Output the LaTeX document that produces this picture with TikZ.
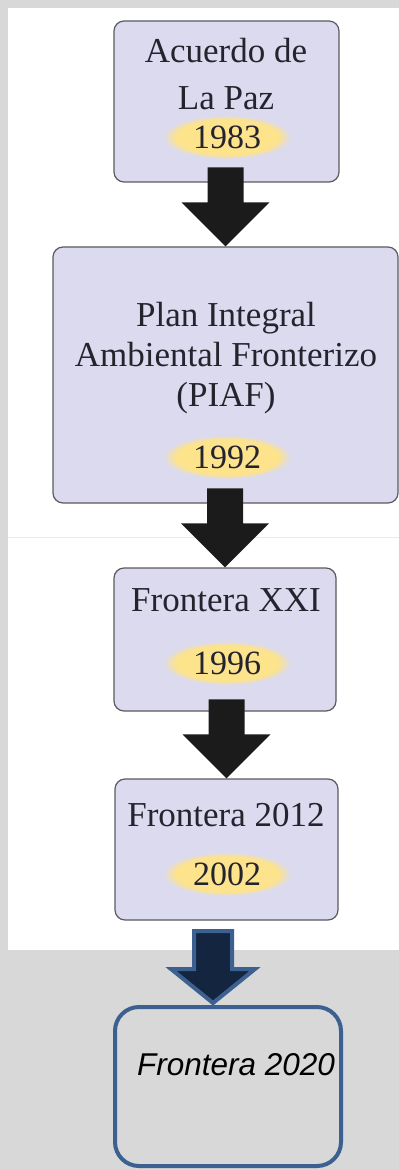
\documentclass[tikz,border=0pt]{standalone}
\usepackage{fontspec}
\setmainfont{Liberation Serif}
\setsansfont{Liberation Sans}
\usepackage{tikz}
\usetikzlibrary{positioning, shapes.geometric, calc}
\definecolor{frBg}{HTML}{D8D8D8}
\definecolor{frSeam}{HTML}{EAEAEA}
\definecolor{frLilac}{HTML}{DCDAEE}
\definecolor{frEdge}{HTML}{5A5A62}
\definecolor{frInk}{HTML}{24242E}
\definecolor{frGold}{HTML}{FCE38C}
\definecolor{frBlack}{HTML}{1B1B1B}
\definecolor{frNavy}{HTML}{13253F}
\definecolor{frSteel}{HTML}{3C6190}
\pgfdeclareradialshading{frHalo}{\pgfpoint{0bp}{0bp}}{color(0bp)=(frGold); color(20bp)=(frGold); color(25bp)=(frLilac); color(50bp)=(frLilac)}
\newcommand{\flechabaja}[2]{%
  \fill[#1] (#2) -- ++(-44,44) -- ++(26,0) -- ++(0,35) -- ++(36,0) -- ++(0,-35) -- ++(26,0) -- cycle;}

\begin{document}
\begin{tikzpicture}[x=0.5pt, y=0.5pt,
  caja/.style={draw=frEdge, fill=frLilac, rounded corners=5pt, line width=0.6pt, inner sep=0pt},
  txt/.style={align=center, text=frInk, inner sep=0pt, font=\fontsize{17.5}{20}\selectfont},
  anio/.style={ellipse, shading=frHalo, minimum width=64pt, minimum height=22pt, inner sep=0pt, text=frInk, font=\fontsize{17}{17}\selectfont},
  flecha/.style={fill=frBlack},
  meta/.style={draw=frSteel, line width=2pt, rounded corners=12pt, inner sep=0pt}]
  \useasboundingbox (0,0) rectangle (399,-1170);
  \fill[frBg] (0,0) rectangle (399,-1170);
  \fill[white] (8,-8) rectangle (399,-950);
  \draw[frSeam, line width=0.5pt] (8,-537) -- (399,-537);

  \node[caja, minimum width=112.5pt, minimum height=80.5pt] (b1) at (226.5,-101.5) {};
  \node[caja, minimum width=172.5pt, minimum height=128pt]  (b2) at (225.5,-375) {};
  \node[caja, minimum width=111pt,   minimum height=71.5pt] (b3) at (225,-639.5) {};
  \node[caja, minimum width=111.5pt, minimum height=70.5pt] (b4) at (226.5,-849.5) {};
  \node[meta, minimum width=113pt,   minimum height=79.5pt] (b5) at (228,-1086.5) {};

  \node[txt, font=\fontsize{17.5}{23.5}\selectfont] (t1) at (226,-74) {Acuerdo de\\La Paz};
  \node[anio] (y1) at (227,-137) {1983};
  \node[txt] (t2) at (226,-358) {Plan Integral\\Ambiental Fronterizo\\(PIAF)};
  \node[anio] (y2) at (227,-457) {1992};
  \node[txt] (t3) at (226,-600) {Frontera XXI};
  \node[anio] (y3) at (227,-663) {1996};
  \node[txt] (t4) at (226,-815) {Frontera 2012};
  \node[anio] (y4) at (227,-874) {2002};
  \node[text=black, inner sep=0pt, font=\sffamily\itshape\fontsize{15.75}{18}\selectfont] (t5) at (236,-1065) {Frontera 2020};

  \flechabaja{flecha}{b2.north}
  \flechabaja{flecha}{b3.north}
  \flechabaja{flecha}{b4.north}
  \filldraw[fill=frNavy, draw=frSteel, line width=2pt] ($(b5.north)+(-15,2)$) -- ++(-42,34) -- ++(23,0) -- ++(0,38) -- ++(38,0) -- ++(0,-38) -- ++(23,0) -- cycle;
\end{tikzpicture}
\end{document}
